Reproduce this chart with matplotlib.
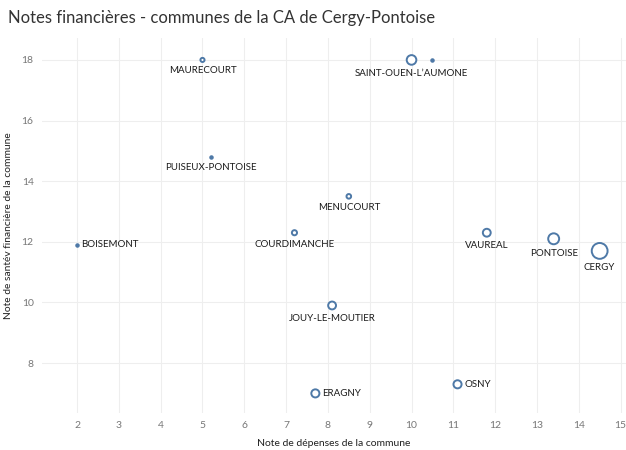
import numpy as np
import matplotlib
matplotlib.use('Agg')
import matplotlib.pyplot as plt

plt.rcParams['font.family'] = ['Lato', 'DejaVu Sans']

# data
communes = ['BOISEMONT', 'MAURECOURT', 'SAINT-OUEN-L\u2019AUMONE', '', 'PUISEUX-PONTOISE',
            'MENUCOURT', 'COURDIMANCHE', 'VAUREAL', 'PONTOISE', 'CERGY',
            'JOUY-LE-MOUTIER', 'ERAGNY', 'OSNY']
note_depenses = [2.0, 5.0, 10.0, 10.5, 5.2, 8.5, 7.2, 11.8, 13.4, 14.5, 8.1, 7.7, 11.1]
note_sante = [11.9, 18.0, 18.0, 18.0, 14.8, 13.5, 12.3, 12.3, 12.1, 11.7, 9.9, 7.0, 7.3]
population = [800, 4400, 24000, 1500, 1100, 5500, 6800, 16000, 31000, 65000, 16000, 17000, 17000]
# where the label goes: 'below' or 'right'
position = ['right', 'below', 'below', 'below', 'below', 'below', 'below', 'below',
            'below', 'below', 'below', 'right', 'right']

blue = '#4e79a7'

fig = plt.figure(figsize=(6.26, 4.5), dpi=100)
ax = fig.add_axes([0.067, 0.082, 0.933, 0.834])

sizes = np.array(population) * 0.002
small = np.array(population) < 2000
x = np.array(note_depenses)
y = np.array(note_sante)
ax.scatter(x[~small], y[~small], s=sizes[~small], facecolors='white', edgecolors=blue,
           linewidths=1.4, zorder=3)
ax.scatter(x[small], y[small], s=5, color=blue, zorder=3)

for i, name in enumerate(communes):
    if not name:
        continue
    r = np.sqrt(max(sizes[i], 5)) / 2 * 100 / 72
    if position[i] == 'below':
        ax.annotate(name, (x[i], y[i]), xytext=(0, -(r + 9)), textcoords='offset pixels',
                    ha='center', va='center', fontsize=7, color='#1a1a1a')
    else:
        ax.annotate(name, (x[i], y[i]), xytext=(r + 3, 0), textcoords='offset pixels',
                    ha='left', va='center', fontsize=7, color='#1a1a1a')

ax.set_xlim(1.16, 15.13)
ax.set_ylim(6.35, 18.73)
ax.set_xticks(range(2, 16))
ax.set_yticks(range(8, 19, 2))
ax.grid(True, color='#eeeeee', linewidth=0.8)
ax.set_axisbelow(True)
for s in ax.spines.values():
    s.set_visible(False)
ax.tick_params(length=0, labelsize=7.5, labelcolor='#777777', pad=6)

ax.set_xlabel('Note de d\u00e9penses de la commune', fontsize=7.5, color='#222222', labelpad=6)
ax.set_ylabel('Note de sant\u00e9v financi\u00e8re de la commune', fontsize=7.4, color='#222222', labelpad=6)

fig.text(0.013, 0.96, 'Notes financi\u00e8res - communes de la CA de Cergy-Pontoise',
         fontsize=12, color='#333333', va='center')

fig.savefig('out.png', dpi=100)
